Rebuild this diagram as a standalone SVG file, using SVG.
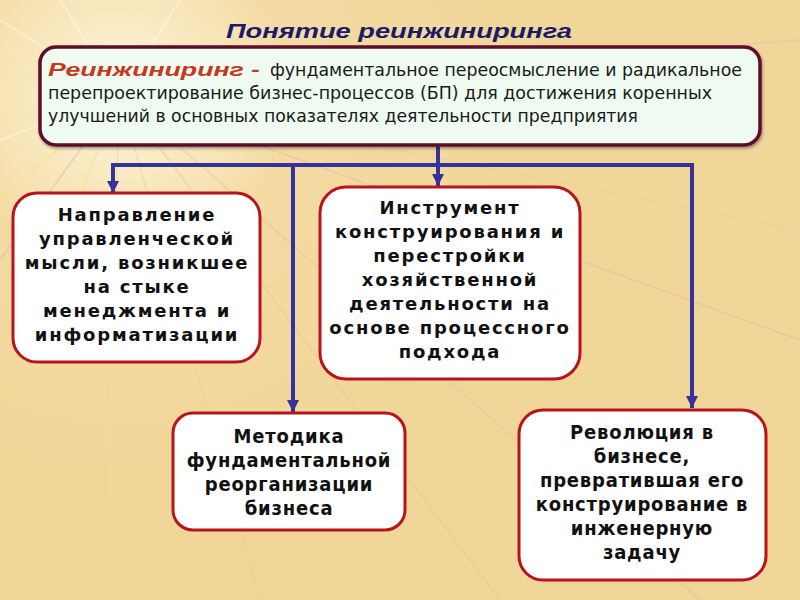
<svg xmlns="http://www.w3.org/2000/svg" width="800" height="600" viewBox="0 0 800 600">
<defs>
<radialGradient id="glow" cx="120" cy="95" r="420" gradientUnits="userSpaceOnUse">
<stop offset="0" stop-color="#ffffff"/>
<stop offset="0.1" stop-color="#fcf0cf"/>
<stop offset="0.4" stop-color="#f4dba4"/>
<stop offset="1" stop-color="#f1d699"/>
</radialGradient>
<marker id="ah" viewBox="0 0 12 12" refX="12" refY="6" markerWidth="12" markerHeight="12" markerUnits="userSpaceOnUse" orient="auto">
<path d="M0,0 L12,6 L0,12 z" fill="#333399"/>
</marker>
<filter id="sh" x="-5%" y="-5%" width="110%" height="115%">
<feDropShadow dx="1" dy="2" stdDeviation="1.5" flood-color="#000" flood-opacity="0.35"/>
</filter>
</defs>
<style>
.conn{stroke:#333399;stroke-width:4;fill:none}
.box{fill:#ffffff;stroke:#b8141c;stroke-width:3}
.t{font-family:"DejaVu Sans",Verdana,sans-serif;font-weight:bold;font-size:18px;fill:#111;text-anchor:middle;letter-spacing:1.8px}
.tc{font-family:"DejaVu Sans Condensed","DejaVu Sans",sans-serif;font-weight:bold;font-size:20px;fill:#111;text-anchor:middle;letter-spacing:0.8px}
.d{font-family:"Liberation Sans Narrow","DejaVu Sans Condensed","Liberation Sans",sans-serif;font-size:17px;fill:#1a1a1a}
</style>
<rect width="800" height="600" fill="url(#glow)"/>
<g stroke-width="1.4" fill="none" opacity="0.5">
<path d="M120,95 L0,20" stroke="#ffffff"/>
<path d="M120,95 L60,0" stroke="#ffffff"/>
<path d="M120,95 L0,140" stroke="#ffffff"/>
<path d="M120,95 L0,200" stroke="#f4e070"/>
<path d="M120,95 L0,260" stroke="#e8a8b0"/>
<path d="M120,95 L180,0" stroke="#ffffff"/>
<path d="M120,95 L800,340" stroke="#e8b0a8"/>
<path d="M120,95 L800,230" stroke="#f0c8a0"/>
<path d="M120,95 L500,600" stroke="#e8c090"/>
<path d="M120,95 L260,600" stroke="#f0c890"/>
<path d="M120,95 L100,600" stroke="#f0d0a0"/>
<path d="M120,95 L800,40" stroke="#f2b8b8"/>
<path d="M120,95 L700,600" stroke="#e8b8a8"/>
<path d="M120,95 L0,400" stroke="#f4e070"/>
</g>
<text x="399" y="38" font-family="Liberation Sans,Arial,sans-serif" font-weight="bold" font-style="italic" font-size="21" fill="#1b1a6b" text-anchor="middle" textLength="346" lengthAdjust="spacingAndGlyphs">Понятие реинжиниринга</text>
<g id="connectors">
<line class="conn" x1="438" y1="145" x2="438" y2="186" marker-end="url(#ah)"/>
<polyline class="conn" points="113,167 113,165 692,165 692,408" marker-end="url(#ah)"/>
<line class="conn" x1="113" y1="163" x2="113" y2="193" marker-end="url(#ah)"/>
<line class="conn" x1="293" y1="165" x2="293" y2="412" marker-end="url(#ah)"/>
</g>
<g id="definition">
<rect x="40" y="47" width="720" height="98" rx="16" fill="#effbf1" stroke="#5e0f2c" stroke-width="3.5" filter="url(#sh)"/>
<text x="48" y="76" font-family="Liberation Sans,Arial,sans-serif" font-weight="bold" font-style="italic" font-size="19" fill="#c8381c" textLength="212" lengthAdjust="spacingAndGlyphs">Реинжиниринг -</text>
<text class="d" x="270" y="76" textLength="472" lengthAdjust="spacingAndGlyphs">фундаментальное переосмысление и радикальное</text>
<text class="d" x="48" y="99" textLength="664" lengthAdjust="spacingAndGlyphs">перепроектирование бизнес-процессов (БП) для достижения коренных</text>
<text class="d" x="48" y="122" textLength="590" lengthAdjust="spacingAndGlyphs">улучшений в основных показателях деятельности предприятия</text>
</g>
<g id="node1">
<rect class="box" x="13" y="193" width="247" height="169" rx="24"/>
<text class="t" x="137" y="221">Направление</text>
<text class="t" x="137" y="245">управленческой</text>
<text class="t" x="137" y="269">мысли, возникшее</text>
<text class="t" x="137" y="293">на стыке</text>
<text class="t" x="137" y="317">менеджмента и</text>
<text class="t" x="137" y="341">информатизации</text>
</g>
<g id="node2">
<rect class="box" x="320" y="187" width="260" height="192" rx="26"/>
<text class="t" x="450" y="214">Инструмент</text>
<text class="t" x="450" y="238">конструирования и</text>
<text class="t" x="450" y="262">перестройки</text>
<text class="t" x="450" y="286">хозяйственной</text>
<text class="t" x="450" y="310">деятельности на</text>
<text class="t" x="450" y="334">основе процессного</text>
<text class="t" x="450" y="358">подхода</text>
</g>
<g id="node3">
<rect class="box" x="173" y="413" width="232" height="117" rx="20"/>
<text class="tc" x="289" y="443">Методика</text>
<text class="tc" x="289" y="467">фундаментальной</text>
<text class="tc" x="289" y="491">реорганизации</text>
<text class="tc" x="289" y="515">бизнеса</text>
</g>
<g id="node4">
<rect class="box" x="519" y="410" width="247" height="170" rx="24"/>
<text class="tc" x="642" y="439">Революция в</text>
<text class="tc" x="642" y="463">бизнесе,</text>
<text class="tc" x="642" y="487">превратившая его</text>
<text class="tc" x="642" y="511">конструирование в</text>
<text class="tc" x="642" y="535">инженерную</text>
<text class="tc" x="642" y="559">задачу</text>
</g>
</svg>
